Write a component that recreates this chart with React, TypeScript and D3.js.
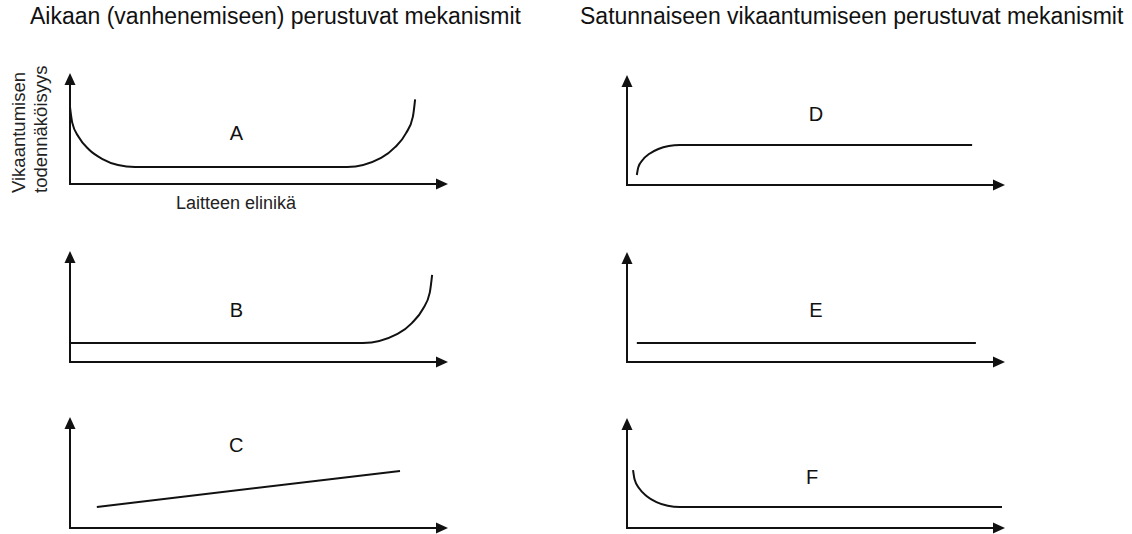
import React from "react";
import * as d3 from "d3";

const W = 1132;
const H = 534;

// Column titles
const titles = [
  "Aikaan (vanhenemiseen) perustuvat mekanismit",
  "Satunnaiseen vikaantumiseen perustuvat mekanismit",
];
const yAxisLabelLines = ["Vikaantumisen", "todennäköisyys"];
const xAxisLabel = "Laitteen elinikä";

// Panel letters
const panelNames = ["A", "B", "C", "D", "E", "F"];

// Failure probability curves (x: share of lifetime 0..100, y: relative probability 0..100)
const curveA: [number, number][] = [
  [0, 69.3], [0.59, 55.3], [2.3, 42.3], [5.0, 31.1], [8.6, 22.5], [12.7, 17.1], [17.2, 15.3],
  [73.3, 15.3], [82.3, 23.5], [86.0, 33.2], [88.9, 45.8], [90.7, 60.5], [91.3, 76.3],
];
const curveB: [number, number][] = [
  [0, 17.1], [77.5, 17.1], [86.65, 25.3], [90.44, 35.05], [93.35, 47.75], [95.18, 62.5], [95.8, 78.4],
];
const curveC: [number, number][] = [
  [7.1, 18.9], [87.3, 51.4],
];
const curveD: [number, number][] = [
  [2.6, 9.1], [2.99, 16.2], [4.13, 22.75], [5.94, 28.4], [8.3, 32.74], [11.05, 35.47], [14.0, 36.4],
  [91.3, 36.4],
];
const curveE: [number, number][] = [
  [2.6, 17.3], [92.3, 17.3],
];
const curveF: [number, number][] = [
  [1.6, 52.7], [2.02, 44.0], [3.26, 35.9], [5.23, 28.94], [7.8, 23.6], [10.79, 20.25], [14.0, 19.1],
  [99.2, 19.1],
];
const curves = [curveA, curveB, curveC, curveD, curveE, curveF];

// Label positions inside panels (same units)
const labelPosX = [44, 44, 44, 50, 50, 49];
const labelPosY = [46, 47, 75, 65, 47, 46];

// Panel frames: axis origin in pixels
const panelOrigins: [number, number][] = [
  [70, 184], [70, 362], [70, 528],
  [627, 185], [627, 362], [627, 528],
];
const panelW = 378;
const panelH = [111, 111, 111, 110, 110, 110];

const FONT = "'Liberation Sans', Arial, Helvetica, sans-serif";
const INK = "#111";

function Panel({ idx }: { idx: number }) {
  const [ox, oy] = panelOrigins[idx];
  const x = d3.scaleLinear().domain([0, 100]).range([ox, ox + panelW]);
  const y = d3.scaleLinear().domain([0, 100]).range([oy, oy - panelH[idx]]);
  const pts = curves[idx];
  const line = d3
    .line<[number, number]>()
    .x((d) => x(d[0]))
    .y((d) => y(d[1]))
    .curve(d3.curveMonotoneX);

  const xEnd = x(100);
  const yTop = y(100);
  const ah = 12; // arrow length
  const aw = 5.5; // half width
  return (
    <g>
      <line x1={ox} y1={oy} x2={xEnd - ah + 1} y2={oy} stroke={INK} strokeWidth={2} />
      <line x1={ox} y1={oy + 1} x2={ox} y2={yTop + ah - 1} stroke={INK} strokeWidth={2} />
      <path d={`M${xEnd},${oy} L${xEnd - ah},${oy - aw} L${xEnd - ah},${oy + aw} Z`} fill={INK} />
      <path d={`M${ox},${yTop} L${ox - aw},${yTop + ah} L${ox + aw},${yTop + ah} Z`} fill={INK} />
      <path d={line(pts) || ""} fill="none" stroke={INK} strokeWidth={2} />
      <text
        x={x(labelPosX[idx])}
        y={y(labelPosY[idx])}
        textAnchor="middle"
        dominantBaseline="central"
        fontSize={20}
        fontFamily={FONT}
        fill={INK}
      >
        {panelNames[idx]}
      </text>
    </g>
  );
}

export default function App() {
  return (
    <svg
      width={W}
      height={H}
      viewBox={`0 0 ${W} ${H}`}
      style={{ position: "absolute", left: 0, top: 0, background: "#fff" }}
    >
      <rect x={0} y={0} width={W} height={H} fill="#fff" />
      <text x={30} y={24} fontSize={23} fontFamily={FONT} fill={INK}>
        {titles[0]}
      </text>
      <text x={580} y={24} fontSize={23} fontFamily={FONT} fill={INK}>
        {titles[1]}
      </text>
      {panelNames.map((_, i) => (
        <Panel key={i} idx={i} />
      ))}
      <text
        transform="translate(25,193) rotate(-90)"
        fontSize={18.5}
        fontFamily={FONT}
        fill="#222"
      >
        {yAxisLabelLines[0]}
      </text>
      <text
        transform="translate(47,193) rotate(-90)"
        fontSize={18.5}
        fontFamily={FONT}
        fill="#222"
      >
        {yAxisLabelLines[1]}
      </text>
      <text x={236} y={209} textAnchor="middle" fontSize={18} fontFamily={FONT} fill="#222">
        {xAxisLabel}
      </text>
    </svg>
  );
}
